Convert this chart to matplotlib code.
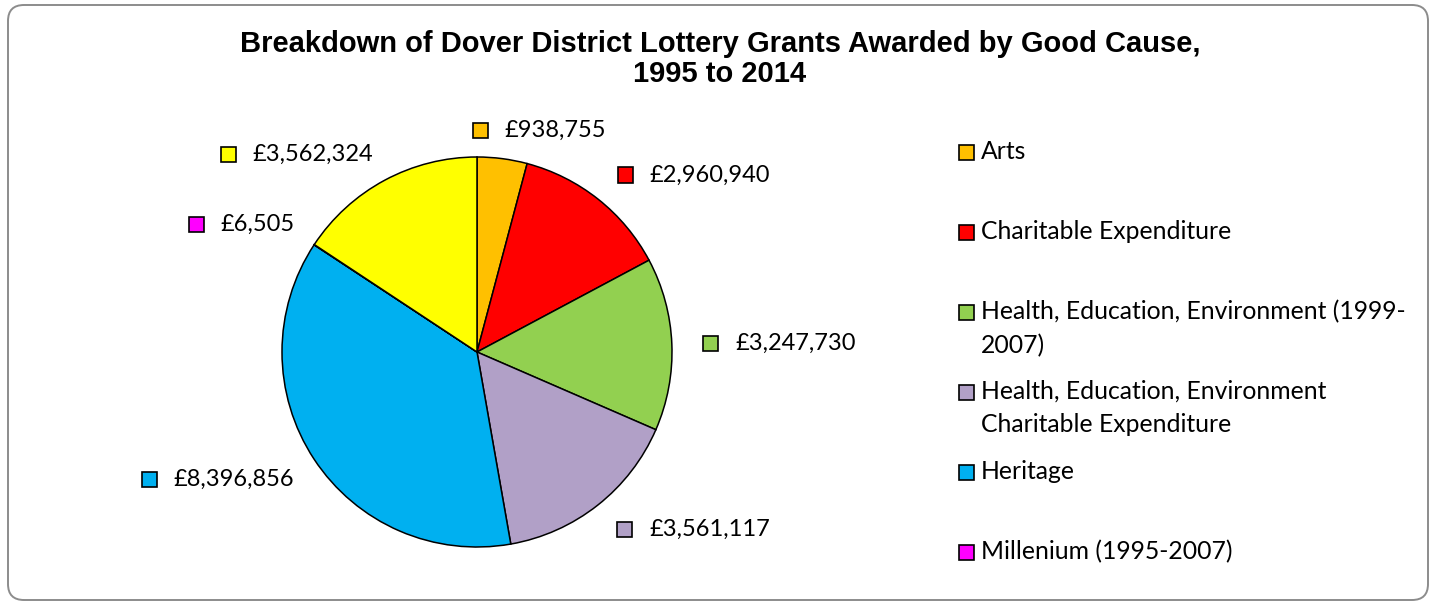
import matplotlib.pyplot as plt
import numpy as np
from matplotlib.patches import Rectangle, FancyBboxPatch
from matplotlib.offsetbox import DrawingArea, TextArea, HPacker, AnnotationBbox

# data (clockwise from 12 o'clock)
values = [938755, 2960940, 3247730, 3561117, 8396856, 6505, 3562324]
colors = ["#FFC000", "#FF0000", "#92D050", "#B1A0C7", "#00B0F0", "#FF00FF", "#FFFF00"]
legend_labels = ["Arts",
                 "Charitable Expenditure",
                 "Health, Education, Environment (1999-\n2007)",
                 "Health, Education, Environment\nCharitable Expenditure",
                 "Heritage",
                 "Millenium (1995-2007)"]
title = "Breakdown of Dover District Lottery Grants Awarded by Good Cause,\n1995 to 2014"

W, H = 1434, 603
body_font = "Lato"

fig = plt.figure(figsize=(W / 100, H / 100), dpi=100)

# rounded outer frame
frame = FancyBboxPatch((8 / 100, 3 / 100), 1420 / 100, 595 / 100,
                       boxstyle="round,pad=0,rounding_size=0.16",
                       transform=fig.dpi_scale_trans, facecolor="none",
                       edgecolor="#8C8C8C", linewidth=1.4)
fig.add_artist(frame)

fig.text(0.502, 1 - 59 / H, title, ha="center", va="center", fontsize=21,
         fontweight="bold", family="Liberation Sans", linespacing=1.1)

# pie axes, square 390px box centred on (477, 352)
cx, cy, r = 477, 352, 195
ax = fig.add_axes([(cx - r) / W, (H - cy - r) / H, 2 * r / W, 2 * r / H])
wedges, _ = ax.pie(values, colors=colors, startangle=90, counterclock=False,
                   wedgeprops=dict(edgecolor="black", linewidth=1.1))
ax.set_xlim(-1, 1)
ax.set_ylim(-1, 1)


def swatch(c):
    da = DrawingArea(11, 11, 0, 0)
    da.add_artist(Rectangle((0, 0), 11, 11, facecolor=c, edgecolor="black", linewidth=1.2))
    return da


# data labels
for w, v, c in zip(wedges, values, colors):
    th = np.deg2rad((w.theta1 + w.theta2) / 2)
    kx = 1.16 if np.cos(th) > 0 else 1.12
    x, y = kx * np.cos(th), 1.09 * np.sin(th)
    bx = 0.25 if abs(np.cos(th)) < 0.3 else (0 if np.cos(th) > 0 else 1)
    by = 0.5 if abs(np.sin(th)) < 0.3 else (0 if np.sin(th) > 0 else 1)
    txt = TextArea(f"£{v:,}", textprops=dict(fontsize=17, family=body_font))
    box = HPacker(children=[swatch(c), txt], align="center", pad=0, sep=12)
    ab = AnnotationBbox(box, (x, y), xycoords="data", box_alignment=(bx, by),
                        frameon=False, pad=0, annotation_clip=False)
    ax.add_artist(ab)

# legend, one entry every 80px
for i, (lab, c) in enumerate(zip(legend_labels, colors)):
    yc = 152 + 80 * i
    fig.add_artist(Rectangle((959 / W, 1 - (yc + 7.5) / H), 15 / W, 15 / H,
                             transform=fig.transFigure, facecolor=c,
                             edgecolor="black", linewidth=1.2))
    fig.text(981 / W, 1 - (yc - 12) / H, lab, ha="left", va="top",
             fontsize=17.8, family=body_font, linespacing=1.55)

plt.savefig("out.png", dpi=100)
